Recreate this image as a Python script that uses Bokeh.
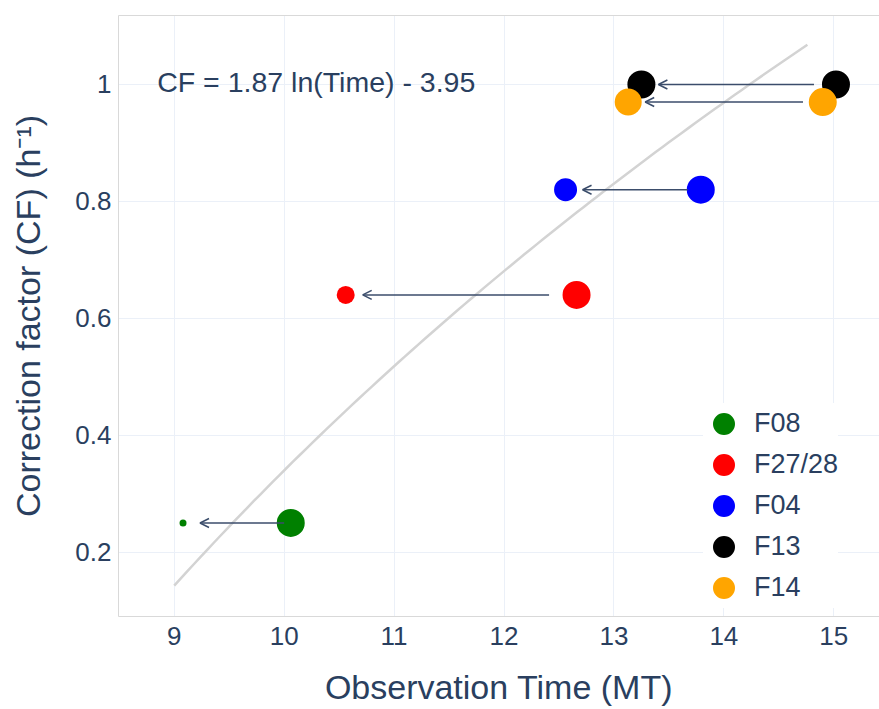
from bokeh.plotting import figure
from bokeh.models import (ColumnDataSource, Arrow, OpenHead, Label, Legend, LegendItem,
                          FixedTicker, LinearAxis, Range1d)
from bokeh.embed import file_html
from bokeh.resources import INLINE
import numpy as np

# ---- data ----
GROUPS = ["F08", "F27/28", "F04", "F13", "F14"]
COLORS = ["green", "red", "blue", "black", "orange"]
CF = [0.25, 0.64, 0.82, 1.0, 0.97]
TIME_BEFORE = [10.06, 12.66, 13.79, 15.02, 14.90]   # large markers
TIME_AFTER = [9.08, 10.56, 12.56, 13.25, 13.13]      # small markers
SIZE_BEFORE = [28, 28, 28, 28, 28]
SIZE_AFTER = [7, 18, 23, 28, 27]
ARROW_TAIL = [10.0, 12.41, 13.67, 14.82, 14.72]

FIT_A = 1.87
FIT_B = -3.966
FIT_T = [9.0 + 0.06 * i for i in range(97)]  # 9.0 .. 14.76
FIT_LABEL = "CF = 1.87 ln(Time) - 3.95"

X_TICKS = [9, 10, 11, 12, 13, 14, 15]
Y_TICKS = [0.2, 0.4, 0.6, 0.8, 1.0]
Y_TICK_LABELS = ["0.2", "0.4", "0.6", "0.8", "1"]

FONT = "Liberation Sans"
TXT = "#2a3f5f"
GRID = "#ebf0f8"
AXLINE = "#d9d9d9"
OUTLINE_W = 5.6   # outline of large markers (same colour): visual diameter = size + outline

p = figure(width=879, height=709, output_backend="svg", toolbar_location=None,
           x_range=Range1d(8.493, 15.416), y_range=Range1d(0.09, 1.118),
           min_border_left=118, min_border_right=0, min_border_top=15, min_border_bottom=93)
p.outline_line_color = None
p.background_fill_color = "white"

# fit curve
ft = np.array(FIT_T)
p.line(ft, FIT_A * np.log(ft) + FIT_B, line_color="#d3d3d3", line_width=2.5)

items = []
for g, c, y, xb, xa, sb, sa in zip(GROUPS, COLORS, CF, TIME_BEFORE, TIME_AFTER, SIZE_BEFORE, SIZE_AFTER):
    big = ColumnDataSource(dict(x=[xb], y=[y], s=[sb - OUTLINE_W]))
    small = ColumnDataSource(dict(x=[xa], y=[y], s=[sa]))
    r = p.scatter("x", "y", size="s", source=big, fill_color=c, line_color=c, line_width=OUTLINE_W)
    p.scatter("x", "y", size="s", source=small, fill_color=c, line_color=None)
    items.append(LegendItem(label=g, renderers=[r]))

# arrows (standoff 17 px from small marker)
px_per_unit = 110.0
for y, xa, xt in zip(CF, TIME_AFTER, ARROW_TAIL):
    p.add_layout(Arrow(end=OpenHead(size=9, line_color="#3b4d6b", line_width=1.5),
                       x_start=xt, y_start=y, x_end=xa + 17 / px_per_unit, y_end=y,
                       line_color="#3b4d6b", line_width=1.5))

p.add_layout(Label(x=8.845, y=1.0034, text=FIT_LABEL, text_font=FONT, text_font_size="28.5px",
                   text_color=TXT, text_baseline="alphabetic"))

# axes
for ax in (p.xaxis[0], p.yaxis[0]):
    ax.axis_line_color = AXLINE
    ax.major_tick_line_color = None
    ax.minor_tick_line_color = None
    ax.major_tick_out = 0
    ax.major_tick_in = 0
    ax.minor_tick_out = 0
    ax.minor_tick_in = 0
    ax.major_label_text_font = FONT
    ax.major_label_text_font_size = "26px"
    ax.major_label_text_color = TXT
    ax.axis_label_text_font = FONT
    ax.axis_label_text_font_size = "34px"
    ax.axis_label_text_font_style = "normal"
    ax.axis_label_text_color = TXT

p.xaxis.ticker = FixedTicker(ticks=X_TICKS)
p.yaxis.ticker = FixedTicker(ticks=Y_TICKS)
p.yaxis.major_label_overrides = {t: l for t, l in zip(Y_TICKS, Y_TICK_LABELS)}
p.xaxis.axis_label = "Observation Time (MT)"
p.yaxis.axis_label = "Correction factor (CF) (h\u207b\u00b9)"
p.xaxis.major_label_standoff = 10
p.xaxis.axis_label_standoff = 20
p.yaxis.major_label_standoff = 7
p.yaxis.axis_label_standoff = 25

top = LinearAxis(ticker=FixedTicker(ticks=[]), axis_line_color=AXLINE,
                 major_tick_line_color=None, minor_tick_line_color=None,
                 major_tick_out=0, major_tick_in=0, minor_tick_out=0, minor_tick_in=0,
                 major_label_text_font_size="0px", major_label_standoff=0)
p.add_layout(top, "above")

p.xgrid.ticker = FixedTicker(ticks=X_TICKS)
p.ygrid.ticker = FixedTicker(ticks=Y_TICKS)
p.xgrid.grid_line_color = GRID
p.ygrid.grid_line_color = GRID
p.xgrid.grid_line_width = 1
p.ygrid.grid_line_width = 1

legend = Legend(items=items, location=(585, 8), glyph_width=41, glyph_height=41,
                spacing=0, padding=7, margin=0, label_standoff=10, label_height=41,
                label_text_font=FONT, label_text_font_size="27px", label_text_color=TXT,
                label_text_baseline="middle",
                border_line_color=None, background_fill_color="white", background_fill_alpha=1.0)
p.add_layout(legend, "center")

open("out.html", "w").write(file_html(p, INLINE))
